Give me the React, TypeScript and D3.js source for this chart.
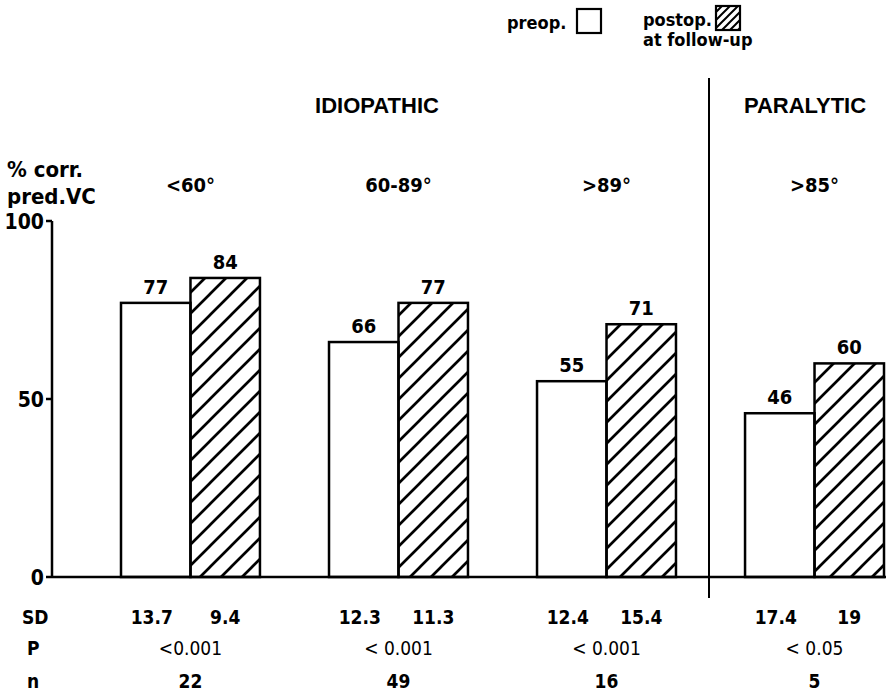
import React from 'react';
import * as d3 from 'd3';

const groups = ['<60°', '60-89°', '>89°', '>85°'];
const series = ['preop', 'postop'];
const preop = [77, 66, 55, 46];
const postop = [84, 77, 71, 60];
const sdPre = ['13.7', '12.3', '12.4', '17.4'];
const sdPost = ['9.4', '11.3', '15.4', '19'];
const pValues = ['<0.001', '< 0.001', '< 0.001', '< 0.05'];
const nValues = ['22', '49', '16', '5'];
const yTicks = [0, 50, 100];

const width = 886;
const height = 696;
const font = '"DejaVu Sans Condensed", "DejaVu Sans", sans-serif';
const headFont = '"Liberation Sans", Arial, sans-serif';

export default function App() {
  const y = d3.scaleLinear().domain([0, 100]).range([577, 221]);
  const x = d3.scaleBand().domain(groups).range([121, 884]).paddingInner(0.332);
  const xs = d3.scaleBand().domain(series).range([0, x.bandwidth()]);
  const axisX = 52;
  const divX = 709;

  const vals = [preop, postop];
  const sds = [sdPre, sdPost];

  return (
    <svg width={width} height={height} style={{ display: 'block', position: 'absolute', left: 0, top: 0, background: '#fff' }}>
      <defs>
        <pattern id="hatch" patternUnits="userSpaceOnUse" width="21" height="21">
          <path d="M-3,24 L24,-3 M-3,3 L3,-3 M18,24 L24,18" stroke="#000" strokeWidth="2.7" />
        </pattern>
        <pattern id="hatchSmall" patternUnits="userSpaceOnUse" width="8" height="8">
          <path d="M-2,10 L10,-2 M-2,2 L2,-2 M6,10 L10,6" stroke="#000" strokeWidth="2" />
        </pattern>
      </defs>

      {/* legend */}
      <g fontFamily={font} fontWeight="bold" fontSize="18">
        <text x={507} y={29}>preop.</text>
        <rect x={577} y={9} width={24} height={24} fill="#fff" stroke="#000" strokeWidth="2.2" />
        <text x={643} y={26}>postop.</text>
        <rect x={716} y={6} width={24} height={24} fill="url(#hatchSmall)" stroke="#000" strokeWidth="2.2" />
        <text x={643} y={46}>at follow-up</text>
      </g>

      {/* section titles */}
      <g fontFamily={headFont} fontWeight="bold" fontSize="22">
        <text x={377} y={113} textAnchor="middle">IDIOPATHIC</text>
        <text x={805} y={113} textAnchor="middle">PARALYTIC</text>
      </g>

      {/* y axis title */}
      <g fontFamily={font} fontWeight="bold" fontSize="22">
        <text x={7} y={177}>% corr.</text>
        <text x={7} y={204}>pred.VC</text>
      </g>

      {/* group labels */}
      <g fontFamily={font} fontWeight="bold" fontSize="20">
        {groups.map(g => (
          <text key={g} x={x(g)! + x.bandwidth() / 2} y={192} textAnchor="middle">{g}</text>
        ))}
      </g>

      {/* y axis */}
      <line x1={axisX} x2={axisX} y1={y(100)} y2={y(0)} stroke="#000" strokeWidth="2.5" />
      {yTicks.map(t => (
        <g key={t}>
          <line x1={axisX - 6} x2={axisX} y1={y(t)} y2={y(t)} stroke="#000" strokeWidth="2.5" />
          <text x={axisX - 8} y={y(t) + 8} textAnchor="end" fontFamily={font} fontWeight="bold" fontSize="21">{t}</text>
        </g>
      ))}

      {/* bars */}
      {groups.map((g, i) => (
        <g key={g}>
          {series.map((s, j) => {
            const v = vals[j][i];
            const bx = x(g)! + xs(s)!;
            return (
              <g key={s}>
                <rect x={bx} y={y(v)} width={xs.bandwidth()} height={y(0) - y(v)}
                  fill={j === 0 ? '#fff' : 'url(#hatch)'} stroke="#000" strokeWidth="2.5" />
                <text x={bx + xs.bandwidth() / 2} y={y(v) - 9} textAnchor="middle"
                  fontFamily={font} fontWeight="bold" fontSize="20">{v}</text>
              </g>
            );
          })}
        </g>
      ))}

      {/* baseline and divider */}
      <line x1={axisX} x2={width} y1={y(0)} y2={y(0)} stroke="#000" strokeWidth="2.6" />
      <line x1={divX} x2={divX} y1={78} y2={598} stroke="#000" strokeWidth="2" />

      {/* table below */}
      <g fontFamily={font} fontWeight="bold" fontSize="19">
        <text x={22} y={624}>SD</text>
        <text x={27} y={655}>P</text>
        <text x={27} y={688}>n</text>
        {groups.map((g, i) => (
          <g key={g}>
            {series.map((s, j) => (
              <text key={s} x={x(g)! + xs(s)! + xs.bandwidth() / 2 - (j === 0 ? 4 : 0)} y={624} textAnchor="middle">{sds[j][i]}</text>
            ))}
            <text x={x(g)! + x.bandwidth() / 2} y={655} textAnchor="middle" fontWeight="normal">{pValues[i]}</text>
            <text x={x(g)! + x.bandwidth() / 2} y={688} textAnchor="middle">{nValues[i]}</text>
          </g>
        ))}
      </g>
    </svg>
  );
}
